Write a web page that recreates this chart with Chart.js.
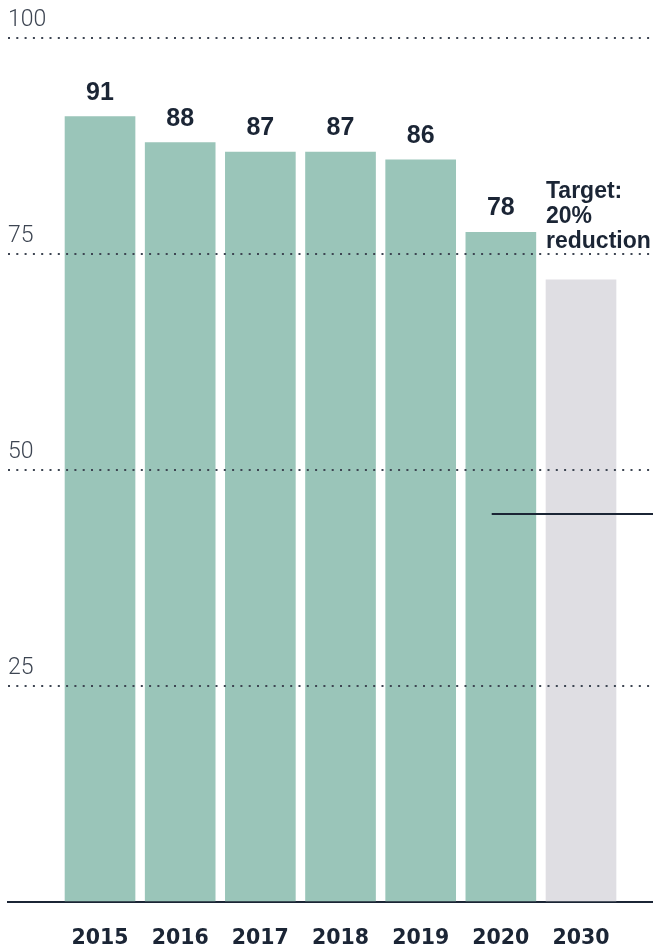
<!DOCTYPE html>
<html lang="en">

<head>
    <meta charset="UTF-8">
    <title>Reduction chart</title>
    <style>
        body { margin: 0; background: #fff; }
    </style>
</head>

<body>
    <div style="width: 653px; height: 949px;">
        <canvas id="myChart"></canvas>
    </div>

    <script src="https://cdn.jsdelivr.net/npm/chart.js"></script>

    <script>
        // data
        let v_years = ["2015", "2016", "2017", "2018", "2019", "2020", "2030"];
        let v_values = [90.9, 87.9, 86.8, 86.8, 85.9, 77.5, 72.0];
        let v_targetIndex = 6; // 2030 is the target bar
        let v_targetText = ["Target:", "20%", "reduction"];
        let v_yTicks = [0, 25, 50, 75, 100];
        let v_leaderY = 44.9;     // thin dark line crossing the last bars
        let v_leaderFrom = 4.886; // starts inside the 2020 bar

        const c_green = "#9ac5b9";
        const c_grey = "#dfdee3";
        const c_ink = "#1b2535";

        const X_MIN = -1.148;
        const X_MAX = 6.898;

        let v_barData = [];
        for (let i = 0; i < v_years.length; i++) {
            v_barData.push({ x: i, y: v_values[i] });
        }

        // value labels above bars + target note
        const valueLabels = {
            id: "valueLabels",
            afterDatasetsDraw(chart) {
                const ctx = chart.ctx;
                const meta = chart.getDatasetMeta(1);
                ctx.save();
                ctx.fillStyle = c_ink;
                meta.data.forEach((bar, i) => {
                    if (i == v_targetIndex) {
                        ctx.font = "bold 23px 'Liberation Sans', Arial, sans-serif";
                        ctx.textAlign = "left";
                        ctx.textBaseline = "alphabetic";
                        let left = bar.x - bar.width / 2;
                        for (let k = 0; k < v_targetText.length; k++) {
                            ctx.fillText(v_targetText[k], left, bar.y - 82 + k * 25);
                        }
                    } else {
                        ctx.font = "bold 25px 'Liberation Sans', Arial, sans-serif";
                        ctx.textAlign = "center";
                        ctx.textBaseline = "alphabetic";
                        ctx.fillText(String(Math.round(v_values[i])), bar.x, bar.y - 17);
                    }
                });
                ctx.restore();
            }
        };

        const ctx = document.getElementById("myChart");

        let v_chart = new Chart(ctx, {
            data: {
                datasets: [{
                    type: "line",
                    data: [{ x: v_leaderFrom, y: v_leaderY }, { x: X_MAX, y: v_leaderY }],
                    borderColor: c_ink,
                    borderWidth: 2,
                    pointRadius: 0,
                    order: 0
                }, {
                    type: "bar",
                    data: v_barData,
                    backgroundColor: v_years.map((y, i) => i == v_targetIndex ? c_grey : c_green),
                    barThickness: 70,
                    borderWidth: 0,
                    order: 1
                }]
            },
            plugins: [valueLabels],
            options: {
                responsive: true,
                maintainAspectRatio: false,
                animation: false,
                layout: {
                    padding: { left: 8, right: 0, top: 38, bottom: 0 }
                },
                plugins: {
                    legend: { display: false },
                    tooltip: { enabled: false }
                },
                scales: {
                    x: {
                        type: "linear",
                        min: X_MIN,
                        max: X_MAX,
                        offset: false,
                        afterBuildTicks: (scale) => {
                            scale.ticks = v_years.map((y, i) => ({ value: i }));
                        },
                        afterFit: (scale) => {
                            scale.height = 47;
                            scale.paddingLeft = 0;
                            scale.paddingRight = 0;
                        },
                        grid: { display: false, drawTicks: false },
                        border: { display: true, color: c_ink, width: 2 },
                        ticks: {
                            callback: (v) => v_years[v] || "",
                            color: c_ink,
                            padding: 24,
                            maxRotation: 0,
                            autoSkip: false,
                            font: { family: "'DejaVu Sans', sans-serif", size: 20.5, weight: "bold" }
                        }
                    },
                    y: {
                        min: 0,
                        max: 100,
                        afterBuildTicks: (scale) => {
                            scale.ticks = v_yTicks.map((v) => ({ value: v }));
                        },
                        afterFit: (scale) => {
                            scale.width = 0;
                        },
                        border: { display: false, dash: [2, 6.3] },
                        grid: {
                            z: 1,
                            drawTicks: false,
                            color: (c) => c.tick && c.tick.value == 0 ? "rgba(0,0,0,0)" : "#3d4552",
                            lineWidth: 2
                        },
                        ticks: {
                            mirror: true,
                            padding: 0,
                            labelOffset: -17.5,
                            color: "#3d4552",
                            callback: (v) => v == 0 ? "" : v,
                            font: { family: "Roboto, sans-serif", size: 23, weight: 300 }
                        }
                    }
                }
            }
        });
    </script>
</body>

</html>
